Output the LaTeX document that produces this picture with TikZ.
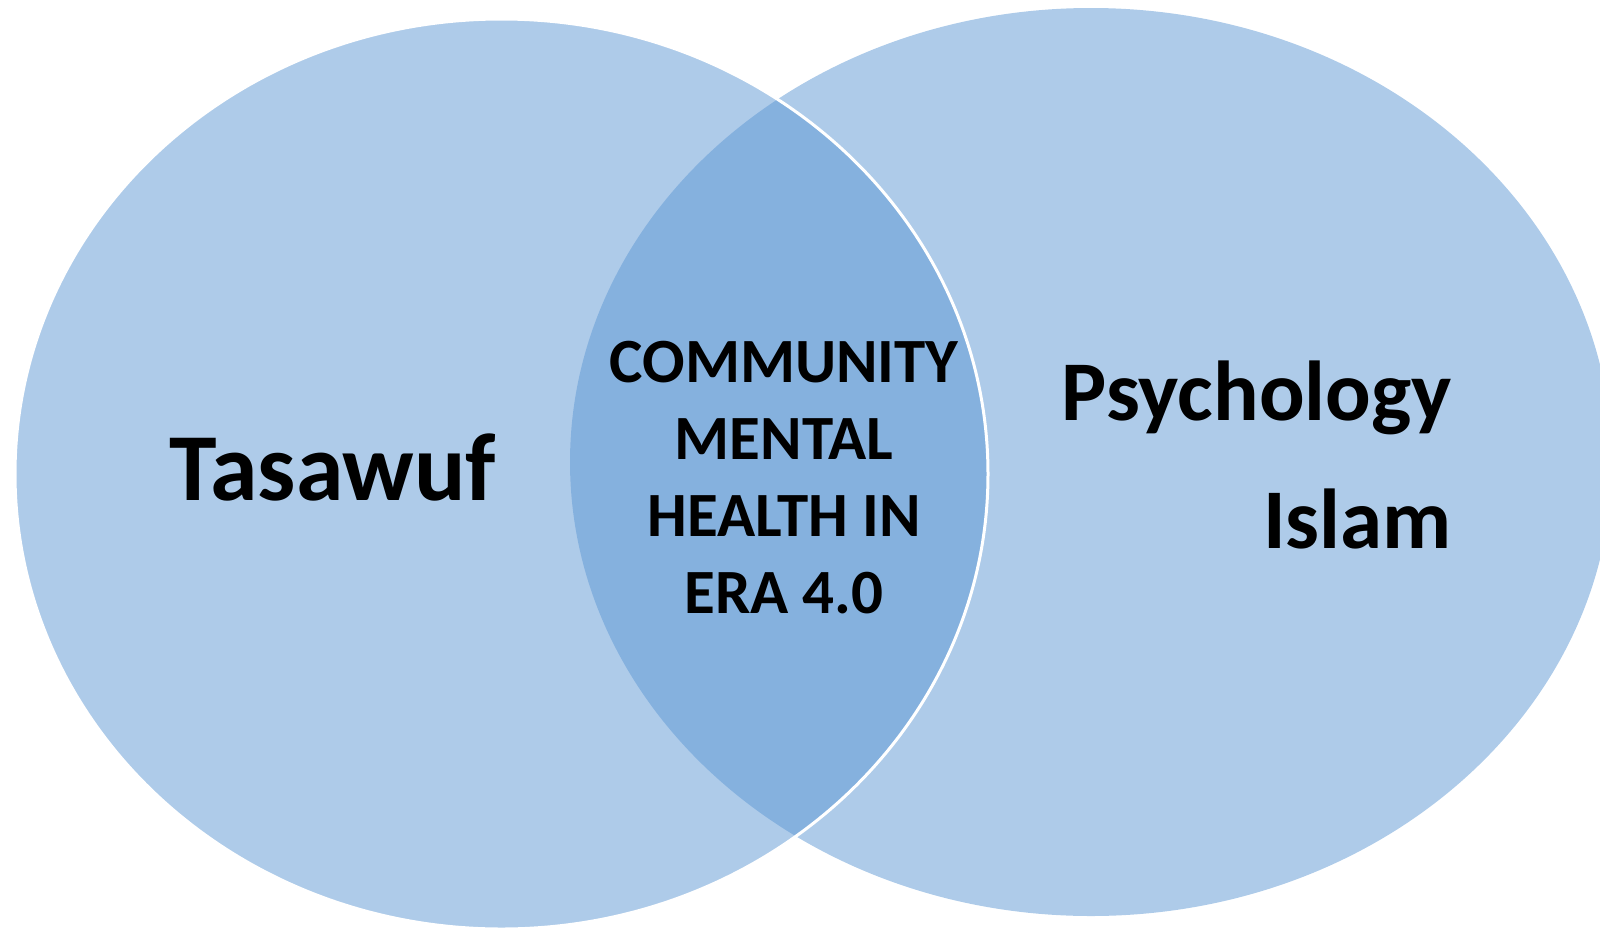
\documentclass[tikz,border=0pt]{standalone}
\usepackage{fontspec}
\setmainfont{Carlito}
\usetikzlibrary{positioning}

\begin{document}
\begin{tikzpicture}[x=1pt, y=-1pt]
    \tikzset{
      my set/.style={
        fill=setblue, fill opacity=0.5, draw opacity=1
      },
      my big label/.style={
        font=\fontsize{#1}{1.2\dimexpr#1pt\relax}\selectfont\bfseries,
        inner sep=0pt, text=black
      },
    }
    \definecolor{setblue}{RGB}{93,151,211}
    \useasboundingbox (0,0) rectangle (1600,927);
    \clip (0,0) rectangle (1600,927);

    % Draw sets
    \path[my set] (1091,462) ellipse [x radius=521pt, y radius=454pt];
    \path[my set, draw=white, line width=3pt] (501.5,474) ellipse [x radius=486.5pt, y radius=455pt];

    % Labels
    \node (tasawuf) [my big label=96, anchor=base] at (333,500) {Tasawuf};
    \node (psych) [my big label=85, anchor=base east, align=right,
      font=\fontsize{85}{128}\selectfont\bfseries] at (1452,548) {Psychology\\Islam};
    \node (core) [my big label=63, anchor=base, align=center,
      font=\fontsize{63}{77}\selectfont\bfseries] at (784,613)
      {COMMUNITY\\MENTAL\\HEALTH IN\\ERA 4.0};

  \end{tikzpicture}
\end{document}
